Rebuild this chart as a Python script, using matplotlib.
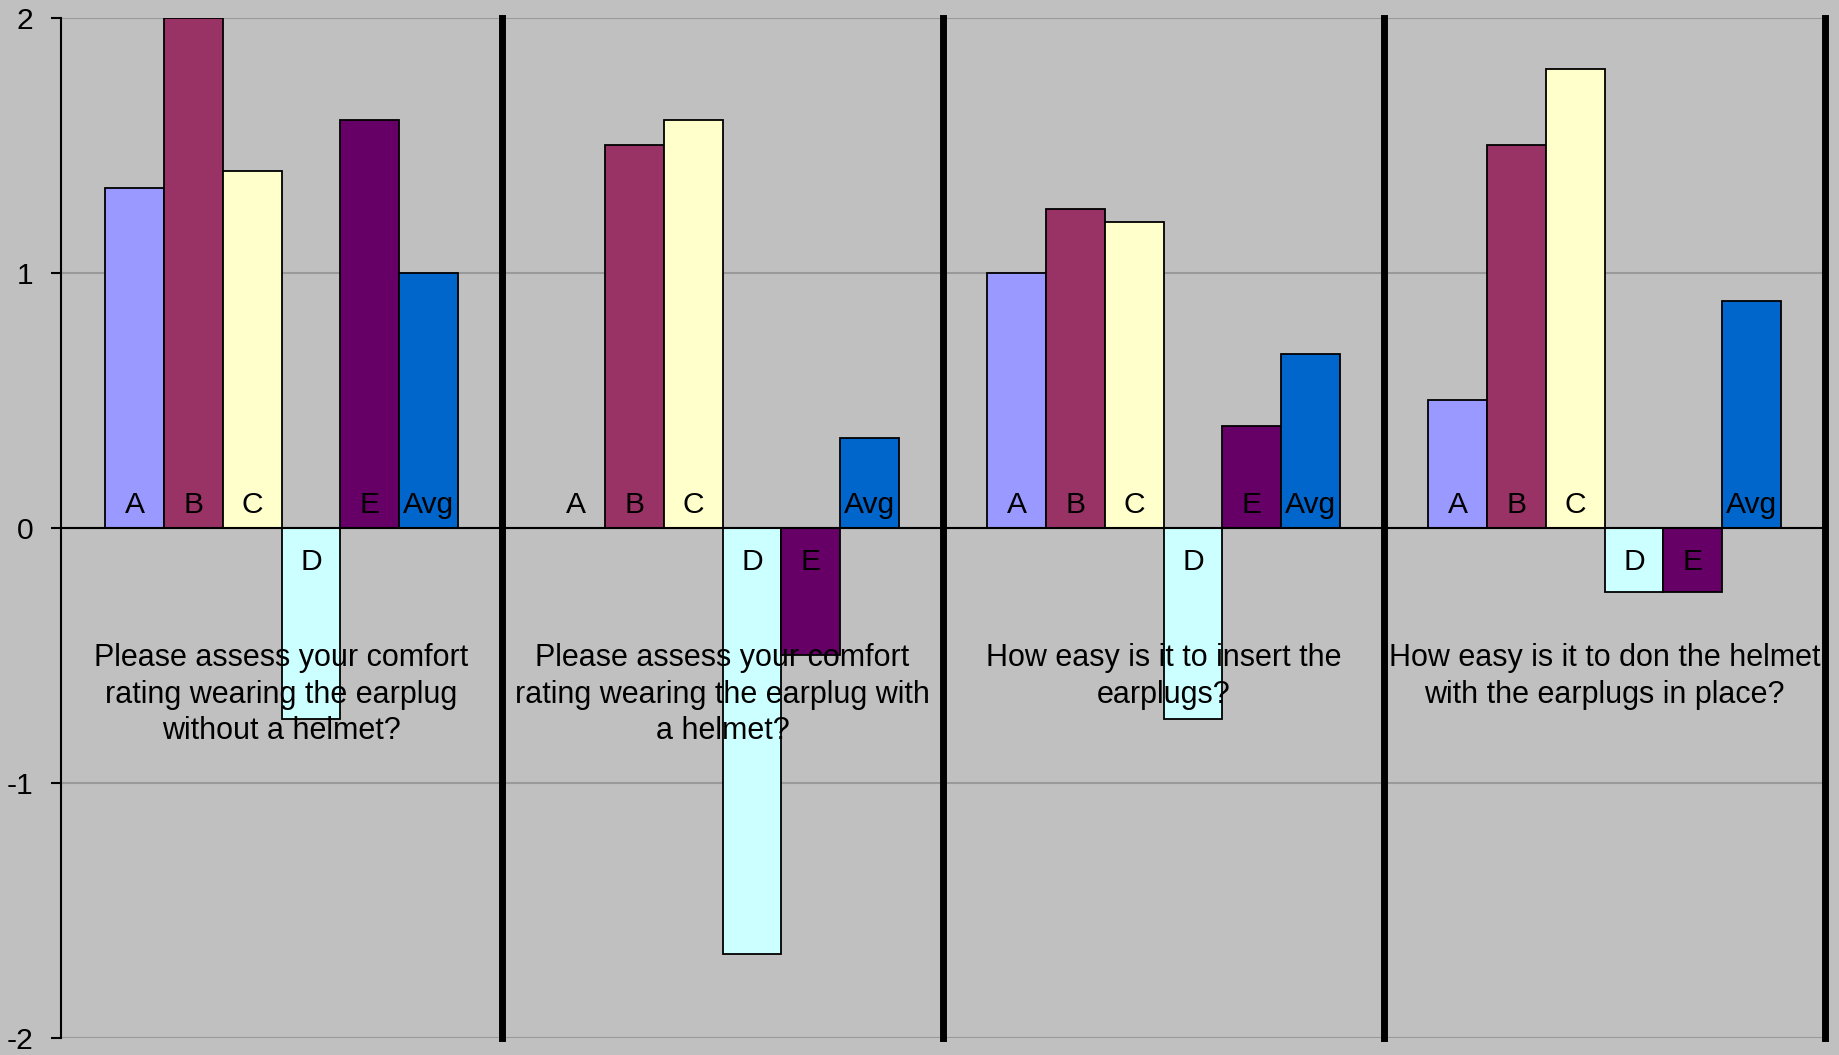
import matplotlib
matplotlib.use("Agg")
import matplotlib.pyplot as plt
import numpy as np

plt.rcParams['font.family'] = ['Liberation Sans', 'DejaVu Sans']

# Survey questions (one cluster per question)
questions = [
    "Please assess your comfort\nrating wearing the earplug\nwithout a helmet?",
    "Please assess your comfort\nrating wearing the earplug with\na helmet?",
    "How easy is it to insert the\nearplugs?",
    "How easy is it to don the helmet\nwith the earplugs in place?",
]

# Respondents plus the average
series = ["A", "B", "C", "D", "E", "Avg"]
series_colors = ["#9999FF", "#993366", "#FFFFCC", "#CCFFFF", "#660066", "#0066CC"]

scores_A = [1.33, 0.0, 1.0, 0.5]
scores_B = [2.0, 1.5, 1.25, 1.5]
scores_C = [1.4, 1.6, 1.2, 1.8]
scores_D = [-0.75, -1.67, -0.75, -0.25]
scores_E = [1.6, -0.5, 0.4, -0.25]
scores_Avg = [1.0, 0.35, 0.68, 0.89]

y_ticks = [-2, -1, 0, 1, 2]

all_scores = [scores_A, scores_B, scores_C, scores_D, scores_E, scores_Avg]

bg = "#C0C0C0"
fs = 21.6

fig = plt.figure(figsize=(18.39, 10.55), dpi=100, facecolor=bg)
ax = fig.add_axes([0.0332, 0.0161, 0.9592, 0.9673])
ax.set_facecolor(bg)

n_groups = len(questions)
n_series = len(series)
bar_w = 1.0 / (n_series + 1.5)
x = np.arange(n_groups)

for j, (name, vals, col) in enumerate(zip(series, all_scores, series_colors)):
    xs = x + (j - (n_series - 1) / 2) * bar_w
    ax.bar(xs, vals, width=bar_w, color=col, edgecolor="black",
           linewidth=1.3, zorder=3)
    for xi, v in zip(xs, vals):
        if v >= 0:
            ax.annotate(name, (xi, 0), xytext=(0, 6.5), textcoords="offset points",
                        ha="center", va="bottom", fontsize=fs, zorder=5)
        else:
            ax.annotate(name, (xi, 0), xytext=(0, -14.5), textcoords="offset points",
                        ha="center", va="top", fontsize=fs, zorder=5)

# Question texts under the zero line
for xi, q in zip(x, questions):
    ax.text(xi, -0.452, q, ha="center", va="top", fontsize=fs + 0.4,
            linespacing=1.28, zorder=6)

ax.set_xlim(-0.5, n_groups - 0.5)
ax.set_ylim(-2, 2)
ax.set_yticks(y_ticks)
ax.set_yticklabels([str(t) for t in y_ticks], fontsize=fs)
ax.set_xticks([])

ax.yaxis.grid(True, color="#999999", linewidth=1.5, zorder=0)
ax.set_axisbelow(True)

ax.axhline(0, color="black", linewidth=1.5, zorder=4)

# Cluster separators
for b in np.arange(n_groups) + 0.5:
    ax.axvline(b, color="black", linewidth=5, zorder=4, clip_on=False)

for side in ["top", "right", "bottom"]:
    ax.spines[side].set_visible(False)
ax.spines["left"].set_linewidth(1.5)
ax.spines["left"].set_color("black")
ax.tick_params(axis="y", length=7, width=1.5, pad=13, color="black")

fig.savefig("out.png", dpi=100, facecolor=bg)
